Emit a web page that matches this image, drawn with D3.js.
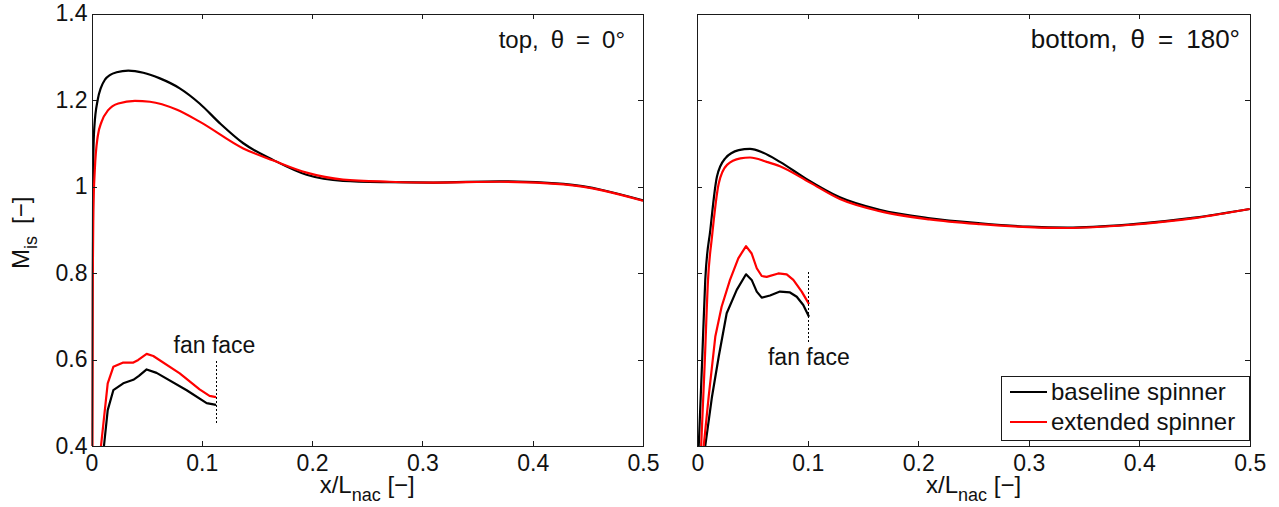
<!DOCTYPE html>
<html>
<head>
<meta charset="utf-8">
<script src="https://cdn.jsdelivr.net/npm/d3@7"></script>
<style>
  html, body { margin: 0; padding: 0; background: #fff; }
  svg { display: block; font-family: "Liberation Sans", Arial, Helvetica, sans-serif; }
  .axis path, .axis line { stroke: #1a1a1a; stroke-width: 1; shape-rendering: crispEdges; }
  .axis text { font-size: 23px; fill: #111; }
</style>
</head>
<body>
<svg id="chart" width="1279" height="507"></svg>
<script>
// Isentropic Mach number along the nacelle, [x/L_nac, M_is] pairs

// top, theta = 0 deg : outer surface
const topBaseline = [[0.0005,0.40],[0.0010,0.80],[0.0017,1.077],[0.0026,1.138],[0.0056,1.20],[0.0085,1.228],[0.0122,1.247],[0.0170,1.258],[0.0228,1.264],[0.0334,1.268],[0.047,1.263],[0.062,1.25],[0.080,1.227],[0.098,1.192],[0.1165,1.146],[0.1376,1.100],[0.165,1.061],[0.195,1.027],[0.228,1.013],[0.27,1.010],[0.31,1.009],[0.37,1.012],[0.428,1.006],[0.5,0.968]];
const topExtended = [[0.0008,0.40],[0.0010,0.753],[0.0017,0.946],[0.003,1.038],[0.0056,1.115],[0.0092,1.15],[0.0153,1.177],[0.0243,1.192],[0.0394,1.198],[0.053,1.196],[0.077,1.178],[0.098,1.15],[0.1376,1.088],[0.165,1.060],[0.195,1.032],[0.228,1.016],[0.27,1.011],[0.31,1.009],[0.37,1.011],[0.428,1.005],[0.5,0.967]];
// top, theta = 0 deg : intake up to the fan face
const topFanBaseline = [[0.0113,0.40],[0.0147,0.483],[0.0198,0.529],[0.0288,0.545],[0.0379,0.553],[0.043,0.562],[0.050,0.577],[0.059,0.569],[0.0863,0.529],[0.1044,0.499],[0.1129,0.495]];
const topFanExtended = [[0.0086,0.40],[0.0147,0.545],[0.0198,0.583],[0.0288,0.593],[0.038,0.593],[0.0424,0.599],[0.050,0.613],[0.056,0.608],[0.080,0.568],[0.098,0.531],[0.107,0.516],[0.1129,0.513]];

// bottom, theta = 180 deg : outer surface
const bottomBaseline = [[0.0013,0.40],[0.0043,0.591],[0.0072,0.784],[0.0118,0.90],[0.0178,1.023],[0.0253,1.065],[0.0375,1.084],[0.0477,1.087],[0.0597,1.078],[0.0748,1.057],[0.099,1.017],[0.129,0.975],[0.165,0.946],[0.2106,0.9265],[0.256,0.915],[0.30,0.907],[0.335,0.905],[0.39,0.912],[0.45,0.928],[0.5,0.948]];
const bottomExtended = [[0.0035,0.40],[0.0067,0.591],[0.0097,0.784],[0.0133,0.884],[0.0194,1.007],[0.0269,1.05],[0.0389,1.065],[0.0477,1.067],[0.0628,1.057],[0.0748,1.047],[0.102,1.009],[0.129,0.971],[0.165,0.943],[0.21,0.924],[0.256,0.913],[0.30,0.906],[0.335,0.904],[0.39,0.911],[0.45,0.927],[0.5,0.948]];
// bottom, theta = 180 deg : intake up to the fan face
const bottomFanBaseline = [[0.0072,0.40],[0.0133,0.514],[0.0194,0.607],[0.0266,0.707],[0.0357,0.761],[0.0441,0.797],[0.0492,0.784],[0.0538,0.757],[0.0583,0.743],[0.0658,0.748],[0.0748,0.757],[0.0839,0.755],[0.090,0.745],[0.0959,0.726],[0.1011,0.699]];
const bottomFanExtended = [[0.0058,0.40],[0.0103,0.514],[0.0163,0.653],[0.022,0.722],[0.0296,0.784],[0.0371,0.834],[0.0441,0.862],[0.0492,0.845],[0.0538,0.811],[0.0583,0.793],[0.0628,0.791],[0.0733,0.799],[0.0809,0.797],[0.0869,0.784],[0.0945,0.757],[0.1011,0.728]];

// fan face position and its marker extent, per panel
const fanFaceX = [0.1129, 0.101];
const fanFaceSpan = [[0.454, 0.597], [0.641, 0.807]];
const fanFaceLabelPos = [[0.1115, 0.615], [0.101, 0.587]];

const xTicks = [0, 0.1, 0.2, 0.3, 0.4, 0.5];
const xTickLabels = ["0", "0.1", "0.2", "0.3", "0.4", "0.5"];
const yTicks = [0.4, 0.6, 0.8, 1.0, 1.2, 1.4];
const yTickLabels = ["0.4", "0.6", "0.8", "1", "1.2", "1.4"];

const panelTitles = ["top,\u2002\u03B8\u2002=\u20020\u00B0", "bottom,\u2002\u03B8\u2002=\u2002180\u00B0"];
const seriesNames = ["baseline spinner", "extended spinner"];
const seriesColors = ["#000000", "#ff0000"];

const svg = d3.select("#chart");
const panelTop = 13.5, panelBottom = 446;
const panels = [
  { left: 91.5, right: 643, title: panelTitles[0], titleEnd: 625, titleSize: 24,
    curves: [topBaseline, topExtended, topFanBaseline, topFanExtended], yLabels: true },
  { left: 697.3, right: 1249.8, title: panelTitles[1], titleEnd: 1240, titleSize: 26,
    curves: [bottomBaseline, bottomExtended, bottomFanBaseline, bottomFanExtended], yLabels: false }
];

panels.forEach((p, i) => {
  const x = d3.scaleLinear().domain([0, 0.5]).range([p.left, p.right]);
  const y = d3.scaleLinear().domain([0.4, 1.4]).range([panelBottom, panelTop]);
  const g = svg.append("g");

  const clipId = "clip" + i;
  svg.append("clipPath").attr("id", clipId).append("rect")
    .attr("x", p.left).attr("y", panelTop)
    .attr("width", p.right - p.left).attr("height", panelBottom - panelTop);

  // outer-surface curves are smooth; intake curves keep their sharp peaks
  const smoothLine = d3.line().x(d => x(d[0])).y(d => y(d[1])).curve(d3.curveMonotoneX);
  const plainLine = d3.line().x(d => x(d[0])).y(d => y(d[1]));
  const plot = g.append("g").attr("clip-path", `url(#${clipId})`);
  p.curves.forEach((c, k) => {
    plot.append("path").datum(c)
      .attr("d", k < 2 ? smoothLine : plainLine)
      .attr("fill", "none")
      .attr("stroke", seriesColors[k % 2])
      .attr("stroke-width", 2.2)
      .attr("stroke-linejoin", "round");
  });

  // fan face marker
  g.append("line")
    .attr("x1", x(fanFaceX[i])).attr("x2", x(fanFaceX[i]))
    .attr("y1", y(fanFaceSpan[i][0])).attr("y2", y(fanFaceSpan[i][1]))
    .attr("stroke", "#000").attr("stroke-width", 1).attr("stroke-dasharray", "2,2")
    .attr("shape-rendering", "crispEdges");
  g.append("text")
    .attr("x", x(fanFaceLabelPos[i][0])).attr("y", y(fanFaceLabelPos[i][1]))
    .attr("text-anchor", "middle").attr("font-size", 23).attr("fill", "#111")
    .text("fan face");

  // axes with inward ticks on all four sides
  const ax = (axis, tx, ty) => g.append("g").attr("class", "axis")
    .attr("transform", `translate(${tx},${ty})`).call(axis);
  ax(d3.axisBottom(x).tickValues(xTicks).tickFormat((d, j) => xTickLabels[j])
      .tickSizeInner(-5).tickSizeOuter(0).tickPadding(9), 0, panelBottom);
  ax(d3.axisTop(x).tickValues(xTicks).tickFormat("").tickSizeInner(-5).tickSizeOuter(0), 0, panelTop);
  ax(d3.axisLeft(y).tickValues(yTicks).tickFormat((d, j) => p.yLabels ? yTickLabels[j] : "")
      .tickSizeInner(-5).tickSizeOuter(0).tickPadding(4), p.left, 0);
  ax(d3.axisRight(y).tickValues(yTicks).tickFormat("").tickSizeInner(-5).tickSizeOuter(0), p.right, 0);

  // panel title
  g.append("text")
    .attr("x", p.titleEnd).attr("y", 48)
    .attr("text-anchor", "end").attr("font-size", p.titleSize).attr("fill", "#111")
    .text(p.title);

  // x axis title
  const xt = g.append("text")
    .attr("x", (p.left + p.right) / 2).attr("y", 493)
    .attr("text-anchor", "middle").attr("font-size", 24).attr("fill", "#111");
  xt.append("tspan").text("x/L");
  xt.append("tspan").attr("dy", 8).attr("font-size", 18).text("nac");
  xt.append("tspan").attr("dy", -8).text(" [\u2212]");
});

// y axis title
const yt = svg.append("text")
  .attr("transform", `translate(29,${(panelTop + panelBottom) / 2 + 3}) rotate(-90)`)
  .attr("text-anchor", "middle").attr("font-size", 24).attr("fill", "#111");
yt.append("tspan").text("M");
yt.append("tspan").attr("dy", 8).attr("font-size", 18).text("is");
yt.append("tspan").attr("dy", -8).text("\u2002[\u2212]");

// legend in the bottom panel
const lg = svg.append("g");
lg.append("rect").attr("x", 1001.5).attr("y", 376).attr("width", 248).attr("height", 64)
  .attr("fill", "#fff").attr("stroke", "#1a1a1a").attr("stroke-width", 1).attr("shape-rendering", "crispEdges");
seriesNames.forEach((name, k) => {
  const yy = 392 + k * 30;
  lg.append("line").attr("x1", 1010).attr("x2", 1047).attr("y1", yy).attr("y2", yy)
    .attr("stroke", seriesColors[k]).attr("stroke-width", 2.2);
  lg.append("text").attr("x", 1051).attr("y", yy + 8)
    .attr("font-size", 24).attr("fill", "#111").text(name);
});
</script>
</body>
</html>
